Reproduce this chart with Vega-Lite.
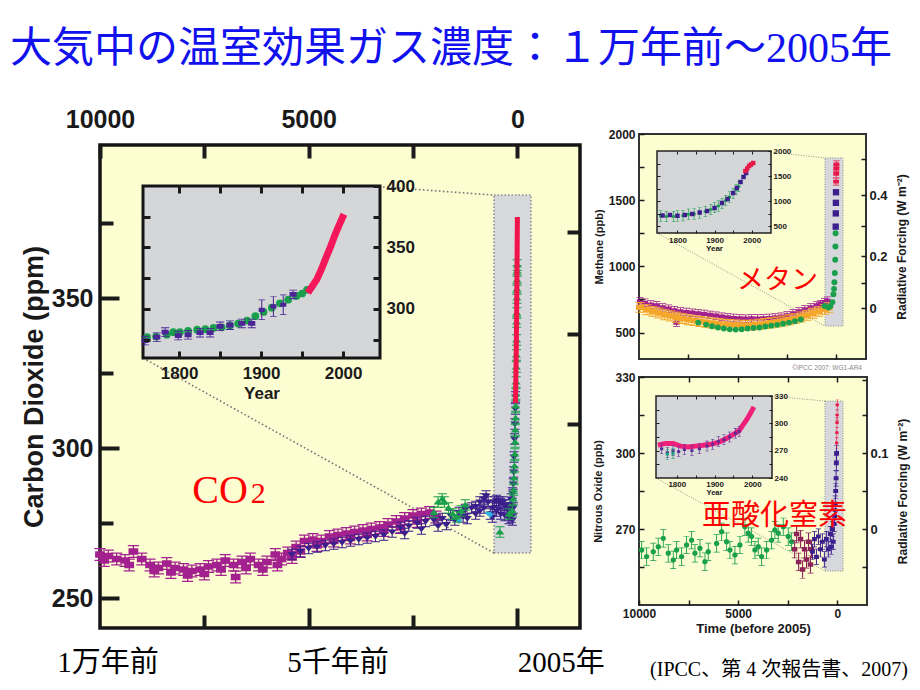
{
"$schema":"https://vega.github.io/schema/vega-lite/v6.json",
"width":920,"height":690,"autosize":{"type":"none"},"padding":0,"background":"#ffffff",
"title":{"text":"大気中の温室効果ガス濃度：１万年前～2005年","anchor":"start","frame":"group","orient":"top","offset":-104,"dx":10,"baseline":"alphabetic","font":"Liberation Serif, Noto Sans CJK JP","fontSize":42,"fontWeight":"normal","color":"#1111ee"},
"config":{"view":{"stroke":null},"axis":{"domain":false,"grid":false,"zindex":1,"labelFlush":false,"labelOverlap":false,"labelFont":"Liberation Sans","titleFont":"Liberation Sans","labelFontWeight":"bold","titleFontWeight":"bold","labelColor":"#1a1a1a","titleColor":"#1a1a1a","tickColor":"#1a1a1a","minExtent":0,"maxExtent":400}},
"datasets":{
"co2_mag":[{"bp":10000,"c":264.5},{"bp":9800,"c":264},{"bp":9600,"c":263},{"bp":9400,"c":262.5},{"bp":9200,"c":265.5},{"bp":9000,"c":263},{"bp":8800,"c":261},{"bp":8600,"c":260},{"bp":8400,"c":261.5},{"bp":8200,"c":260},{"bp":8000,"c":259.5},{"bp":7800,"c":259},{"bp":7600,"c":259.5},{"bp":7400,"c":260.5},{"bp":7200,"c":261},{"bp":7000,"c":262.5},{"bp":6800,"c":261},{"bp":6750,"c":257},{"bp":6600,"c":262},{"bp":6400,"c":263},{"bp":6200,"c":261},{"bp":6000,"c":262},{"bp":5800,"c":264.5},{"bp":5750,"c":261},{"bp":5500,"c":265},{"bp":5300,"c":267},{"bp":5100,"c":269},{"bp":4900,"c":269.5},{"bp":4700,"c":269},{"bp":4500,"c":270.5},{"bp":4300,"c":271},{"bp":4100,"c":271.5},{"bp":3900,"c":272},{"bp":3700,"c":272.5},{"bp":3500,"c":273},{"bp":3300,"c":273.5},{"bp":3100,"c":274.5},{"bp":2900,"c":275.5},{"bp":2700,"c":276.5},{"bp":2500,"c":277.5},{"bp":2300,"c":278},{"bp":2100,"c":278.5},{"bp":1950,"c":277},{"bp":9900,"c":262.5},{"bp":9300,"c":261},{"bp":8700,"c":259},{"bp":8300,"c":258.5},{"bp":7900,"c":257.5},{"bp":7500,"c":258},{"bp":7100,"c":259.5},{"bp":6500,"c":260},{"bp":6100,"c":259.5},{"bp":5650,"c":263},{"bp":5400,"c":263.5},{"bp":5200,"c":265.5},{"bp":4800,"c":267.5},{"bp":4400,"c":269},{"bp":4000,"c":270},{"bp":3600,"c":271},{"bp":3200,"c":272.5},{"bp":2800,"c":273.5},{"bp":2400,"c":275.5}],
"co2_ind":[{"bp":5400,"c":264.5},{"bp":5200,"c":265.5},{"bp":5000,"c":266.5},{"bp":4800,"c":267},{"bp":4600,"c":267.5},{"bp":4400,"c":268},{"bp":4200,"c":268.5},{"bp":4000,"c":269},{"bp":3800,"c":269.5},{"bp":3600,"c":270},{"bp":3400,"c":270.5},{"bp":3200,"c":271},{"bp":3000,"c":272},{"bp":2800,"c":273.5},{"bp":2600,"c":274},{"bp":2400,"c":275},{"bp":2200,"c":275.5},{"bp":2000,"c":276},{"bp":1800,"c":276.5},{"bp":1600,"c":277.5},{"bp":1400,"c":278.5},{"bp":1250,"c":279.5},{"bp":1100,"c":280},{"bp":1000,"c":280.5},{"bp":900,"c":282},{"bp":800,"c":283},{"bp":750,"c":284},{"bp":700,"c":282},{"bp":650,"c":278},{"bp":600,"c":280},{"bp":550,"c":282},{"bp":500,"c":282.5},{"bp":450,"c":282},{"bp":400,"c":281.5},{"bp":350,"c":282},{"bp":300,"c":281},{"bp":250,"c":280},{"bp":200,"c":279},{"bp":170,"c":281},{"bp":150,"c":283},{"bp":120,"c":285},{"bp":100,"c":288},{"bp":90,"c":292},{"bp":80,"c":297},{"bp":70,"c":303},{"bp":60,"c":308},{"bp":50,"c":313},{"bp":45,"c":317},{"bp":2700,"c":271.5},{"bp":2300,"c":273},{"bp":1900,"c":274},{"bp":1700,"c":274.5},{"bp":1500,"c":276},{"bp":1300,"c":277},{"bp":1200,"c":276.5},{"bp":1000,"c":278},{"bp":900,"c":279},{"bp":800,"c":280},{"bp":600,"c":277},{"bp":500,"c":279},{"bp":400,"c":278},{"bp":300,"c":277.5},{"bp":200,"c":276.5},{"bp":150,"c":277},{"bp":120,"c":276},{"bp":100,"c":280}],
"co2_grn":[{"bp":2000,"c":278.5},{"bp":1900,"c":282},{"bp":1800,"c":283},{"bp":1750,"c":282},{"bp":1650,"c":280},{"bp":1550,"c":278},{"bp":1450,"c":277},{"bp":1350,"c":279},{"bp":1250,"c":281},{"bp":420,"c":272},{"bp":200,"c":278},{"bp":120,"c":279},{"bp":100,"c":283},{"bp":90,"c":286},{"bp":80,"c":290},{"bp":70,"c":294},{"bp":60,"c":298},{"bp":55,"c":302},{"bp":50,"c":306},{"bp":45,"c":310},{"bp":40,"c":314},{"bp":35,"c":318},{"bp":30,"c":322},{"bp":25,"c":327},{"bp":22,"c":331},{"bp":20,"c":336},{"bp":18,"c":342},{"bp":15,"c":345},{"bp":12,"c":350},{"bp":10,"c":353},{"bp":8,"c":356},{"bp":5,"c":359},{"bp":3,"c":361}],
"co2_cyan":[{"bp":1400,"c":275.5},{"bp":700,"c":278},{"bp":650,"c":277.5}],
"co2_red":[{"bp":47,"c":315},{"bp":35,"c":325},{"bp":25,"c":335},{"bp":15,"c":350},{"bp":5,"c":368},{"bp":0,"c":377}],
"co2i_grn":[{"yr":1761,"c":277},{"yr":1772,"c":277.5},{"yr":1785,"c":279},{"yr":1793,"c":281},{"yr":1801,"c":281},{"yr":1811,"c":282},{"yr":1822,"c":283},{"yr":1832,"c":283.5},{"yr":1842,"c":284.5},{"yr":1852,"c":285},{"yr":1862,"c":286.5},{"yr":1872,"c":288},{"yr":1883,"c":290.5},{"yr":1893,"c":294},{"yr":1903,"c":297.5},{"yr":1913,"c":301},{"yr":1923,"c":304.5},{"yr":1933,"c":307.5},{"yr":1943,"c":310.5},{"yr":1950,"c":312.5},{"yr":1956,"c":315.5}],
"co2i_ind":[{"yr":1758.5,"c":274.2},{"yr":1772.8,"c":276.9},{"yr":1783,"c":281.1},{"yr":1799,"c":278.3},{"yr":1811,"c":278.9},{"yr":1825.6,"c":280.6},{"yr":1837.8,"c":280.6},{"yr":1850,"c":285.8},{"yr":1862,"c":286.7},{"yr":1876.5,"c":288.1},{"yr":1888.6,"c":288.1},{"yr":1939,"c":311.7}],
"co2i_big":[{"yr":1900.8,"c":299.2},{"yr":1915,"c":302},{"yr":1927,"c":303.3}],
"co2i_red":[{"yr":1957,"c":313},{"yr":1962,"c":318},{"yr":1968,"c":324},{"yr":1974,"c":333},{"yr":1980,"c":343},{"yr":1985,"c":351},{"yr":1990,"c":360},{"yr":1995,"c":368},{"yr":2001,"c":377}],
"ch4_mag":[{"bp":9950,"c":735},{"bp":9700,"c":725},{"bp":9400,"c":712},{"bp":9100,"c":705},{"bp":8800,"c":690},{"bp":8500,"c":680},{"bp":8200,"c":668},{"bp":8100,"c":575},{"bp":7900,"c":660},{"bp":7600,"c":655},{"bp":7300,"c":650},{"bp":7000,"c":645},{"bp":6700,"c":640},{"bp":6400,"c":633},{"bp":6100,"c":628},{"bp":5800,"c":620},{"bp":5500,"c":615},{"bp":5200,"c":610},{"bp":4900,"c":607},{"bp":4600,"c":605},{"bp":4300,"c":607},{"bp":4000,"c":606},{"bp":3700,"c":607},{"bp":3400,"c":610},{"bp":3100,"c":615},{"bp":2800,"c":620},{"bp":2500,"c":630},{"bp":2200,"c":645},{"bp":1900,"c":660},{"bp":1600,"c":675},{"bp":1300,"c":690},{"bp":1000,"c":705},{"bp":800,"c":715},{"bp":600,"c":730},{"bp":450,"c":740}],
"ch4_org":[{"bp":9950,"c":690},{"bp":9600,"c":672},{"bp":9300,"c":660},{"bp":9000,"c":648},{"bp":8700,"c":635},{"bp":8400,"c":625},{"bp":8100,"c":615},{"bp":7800,"c":605},{"bp":7500,"c":597},{"bp":7200,"c":590},{"bp":6900,"c":583},{"bp":6600,"c":577},{"bp":6300,"c":572},{"bp":6000,"c":567},{"bp":5700,"c":563},{"bp":5400,"c":560},{"bp":5100,"c":558},{"bp":4800,"c":556},{"bp":4500,"c":556},{"bp":4200,"c":558},{"bp":3900,"c":562},{"bp":3600,"c":568},{"bp":3300,"c":574},{"bp":3000,"c":580},{"bp":2700,"c":587},{"bp":2400,"c":596},{"bp":2100,"c":605},{"bp":1800,"c":617},{"bp":1500,"c":630},{"bp":1200,"c":645},{"bp":900,"c":660},{"bp":600,"c":675},{"bp":400,"c":688}],
"ch4_grn":[{"bp":7000,"c":575},{"bp":6600,"c":560},{"bp":6300,"c":548},{"bp":6000,"c":538},{"bp":5700,"c":530},{"bp":5400,"c":524},{"bp":5100,"c":522},{"bp":4800,"c":525},{"bp":4500,"c":530},{"bp":4200,"c":534},{"bp":3900,"c":538},{"bp":3600,"c":545},{"bp":3300,"c":552},{"bp":3000,"c":558},{"bp":2700,"c":566},{"bp":2400,"c":575},{"bp":2100,"c":585},{"bp":1800,"c":598},{"bp":600,"c":700},{"bp":400,"c":690},{"bp":300,"c":700},{"bp":200,"c":730},{"bp":150,"c":790},{"bp":120,"c":830},{"bp":100,"c":880},{"bp":80,"c":950},{"bp":60,"c":1050},{"bp":50,"c":1150},{"bp":40,"c":1250}],
"ch4_ind":[{"bp":35,"c":1300},{"bp":30,"c":1400},{"bp":25,"c":1480},{"bp":20,"c":1560}],
"ch4_red":[{"bp":15,"c":1640},{"bp":10,"c":1700},{"bp":5,"c":1740},{"bp":0,"c":1770}],
"ch4i_grn":[{"yr":1755,"c":700},{"yr":1770,"c":690},{"yr":1790,"c":690},{"yr":1800,"c":700},{"yr":1815,"c":705},{"yr":1830,"c":735},{"yr":1845,"c":740},{"yr":1860,"c":760},{"yr":1875,"c":790},{"yr":1890,"c":830},{"yr":1900,"c":870},{"yr":1910,"c":900},{"yr":1920,"c":950},{"yr":1930,"c":1010},{"yr":1940,"c":1080},{"yr":1950,"c":1150},{"yr":1958,"c":1230},{"yr":1965,"c":1290}],
"ch4i_ind":[{"yr":1760,"c":710},{"yr":1780,"c":720},{"yr":1800,"c":705},{"yr":1820,"c":720},{"yr":1840,"c":740},{"yr":1860,"c":770},{"yr":1880,"c":800},{"yr":1900,"c":860},{"yr":1920,"c":960},{"yr":1935,"c":1040},{"yr":1950,"c":1160},{"yr":1960,"c":1260},{"yr":1970,"c":1380},{"yr":1978,"c":1480},{"yr":1985,"c":1560}],
"ch4i_red":[{"yr":1983,"c":1600},{"yr":1988,"c":1650},{"yr":1993,"c":1700},{"yr":1998,"c":1730},{"yr":2004,"c":1760}],
"n2o_grn":[{"bp":9868,"c":261.7},{"bp":9616,"c":259.1},{"bp":9280,"c":261},{"bp":9027,"c":263},{"bp":8775,"c":266.3},{"bp":8523,"c":260.4},{"bp":8271,"c":257.8},{"bp":8103,"c":261.7},{"bp":7851,"c":259.1},{"bp":7599,"c":263.7},{"bp":7346,"c":265.6},{"bp":7178,"c":260.4},{"bp":6926,"c":262.4},{"bp":6674,"c":257.1},{"bp":6506,"c":261},{"bp":6086,"c":264.3},{"bp":5834,"c":268.9},{"bp":5581,"c":265},{"bp":5413,"c":261.7},{"bp":5161,"c":259.7},{"bp":4909,"c":263.7},{"bp":4657,"c":270.9},{"bp":4489,"c":268.3},{"bp":4321,"c":267},{"bp":4152,"c":261.7},{"bp":3984,"c":263},{"bp":3816,"c":259.1},{"bp":3564,"c":261.7},{"bp":3312,"c":265.6},{"bp":3144,"c":269.6},{"bp":2976,"c":268.3},{"bp":2724,"c":270.9},{"bp":2471,"c":267},{"bp":2303,"c":265}],
"n2o_mar":[{"bp":2150,"c":262},{"bp":2050,"c":268},{"bp":1950,"c":257},{"bp":1850,"c":266},{"bp":1750,"c":254},{"bp":1650,"c":262},{"bp":1550,"c":258},{"bp":1450,"c":265},{"bp":1350,"c":256},{"bp":1300,"c":262}],
"n2o_ind":[{"bp":1250,"c":261},{"bp":1150,"c":266},{"bp":1050,"c":259},{"bp":950,"c":267},{"bp":850,"c":262},{"bp":750,"c":265},{"bp":650,"c":258},{"bp":550,"c":266},{"bp":450,"c":262},{"bp":350,"c":268},{"bp":300,"c":263},{"bp":250,"c":270},{"bp":200,"c":265},{"bp":160,"c":272},{"bp":130,"c":275},{"bp":100,"c":280},{"bp":80,"c":285},{"bp":60,"c":290},{"bp":45,"c":296},{"bp":35,"c":300}],
"n2o_red":[{"bp":28,"c":304},{"bp":20,"c":308},{"bp":12,"c":312},{"bp":6,"c":315},{"bp":0,"c":319}],
"n2oi_pink":[{"yr":1750,"c":276},{"yr":1770,"c":278},{"yr":1790,"c":278},{"yr":1810,"c":275},{"yr":1830,"c":274},{"yr":1850,"c":275},{"yr":1870,"c":276},{"yr":1890,"c":277},{"yr":1910,"c":279},{"yr":1930,"c":283},{"yr":1950,"c":288},{"yr":1965,"c":292},{"yr":1975,"c":298},{"yr":1985,"c":304},{"yr":1995,"c":311},{"yr":2004,"c":318}],
"n2oi_ind":[{"yr":1760,"c":272},{"yr":1775,"c":268},{"yr":1790,"c":270},{"yr":1805,"c":269},{"yr":1820,"c":271},{"yr":1840,"c":270},{"yr":1860,"c":272},{"yr":1880,"c":275},{"yr":1895,"c":277},{"yr":1910,"c":280},{"yr":1925,"c":282},{"yr":1940,"c":285},{"yr":1955,"c":289},{"yr":1965,"c":291}],
"n2oi_grn":[{"yr":1775,"c":266},{"yr":1790,"c":267}]
},
"layer":[
{"data":{"values":[{}]},"mark":{"type":"rect","fill":"#fdfdd2","stroke":"#151515","strokeWidth":3.5},
 "encoding":{
  "x":{"datum":10000,"type":"quantitative","scale":{"domain":[10000,-1500],"range":[100,580],"nice":false,"zero":false},"axis":{"orient":"bottom","offset":-62,"values":[7500,5000,2500,0],"labels":false,"tickSize":{"condition":{"test":"datum.value % 5000 == 0","value":-20},"value":-13},"tickWidth":4,"zindex":2,"title":null}},
  "x2":{"datum":-1500},
  "y":{"datum":240,"type":"quantitative","scale":{"domain":[240,401],"range":[628,145],"nice":false,"zero":false},"axis":{"orient":"left","offset":-100,"values":[250,275,300,325,350,375],"format":"d","labelExpr":"datum.value % 50 == 0 ? datum.label : ''","tickSize":{"condition":{"test":"datum.value % 50 == 0","value":-19},"value":-13},"tickWidth":4,"zindex":2,"labelFontSize":25,"labelPadding":26,"title":"Carbon Dioxide (ppm)","titleFontSize":27,"titlePadding":3}},
  "y2":{"datum":401}}},
{"data":{"values":[{}]},"mark":{"type":"rect","fill":"#d7d8db","stroke":"#8a8a8a","strokeWidth":1.5,"strokeDash":[1.5,2]},
 "encoding":{
  "x":{"datum":561,"type":"quantitative","scale":{"domain":[10000,-1500],"range":[100,580],"nice":false,"zero":false},"axis":{"orient":"top","offset":-145,"values":[10000,7500,5000,2500,0],"format":"d","labelExpr":"datum.value % 5000 == 0 ? datum.label : ''","tickSize":-13,"tickWidth":4,"zindex":2,"labelFontSize":25,"labelPadding":26,"title":null}},
  "x2":{"datum":-326},
  "y":{"datum":265,"type":"quantitative","scale":{"domain":[240,401],"range":[628,145],"nice":false,"zero":false},"axis":{"orient":"right","offset":-340,"values":[280,308,338,372],"labels":false,"tickSize":-13,"tickWidth":4,"zindex":2,"title":null}},
  "y2":{"datum":384.3}}},
{"data":{"values":[{"x":8970,"y":330,"x2":561,"y2":265},{"x":3220,"y":387,"x2":561,"y2":384.3}]},"mark":{"type":"rule","stroke":"#777777","strokeWidth":1.6,"strokeDash":[1.6,2.4]},
 "encoding":{
  "x":{"field":"x","type":"quantitative","scale":{"domain":[10000,-1500],"range":[100,580],"nice":false,"zero":false},"axis":null},
  "y":{"field":"y","type":"quantitative","scale":{"domain":[240,401],"range":[628,145],"nice":false,"zero":false},"axis":null},
  "x2":{"field":"x2"},"y2":{"field":"y2"}}},
{"layer":[
 {"data":{"name":"co2_mag"},"mark":{"type":"point","shape":"M-0.75,-0.5H0.75V0.5H-0.75Z M-0.85,-1H0.85V-0.82H-0.85Z M-0.85,0.82H0.85V1H-0.85Z M-0.1,-1H0.1V1H-0.1Z","filled":true,"size":170,"color":"#a3208f","opacity":1,"strokeWidth":0},
  "encoding":{"x":{"field":"bp","type":"quantitative","scale":{"domain":[10000,-1500],"range":[100,580],"nice":false,"zero":false},"axis":null},"y":{"field":"c","type":"quantitative","scale":{"domain":[240,401],"range":[628,145],"nice":false,"zero":false},"axis":null}}},
 {"data":{"name":"co2_ind"},"mark":{"type":"point","shape":"M-0.8,-0.45H0.8L0,0.55Z M-0.8,-1H0.8V-0.84H-0.8Z M-0.8,0.84H0.8V1H-0.8Z M-0.1,-1H0.1V1H-0.1Z","filled":true,"size":130,"color":"#3b1f8c","opacity":1,"strokeWidth":0},
  "encoding":{"x":{"field":"bp","type":"quantitative","scale":{"domain":[10000,-1500],"range":[100,580],"nice":false,"zero":false},"axis":null},"y":{"field":"c","type":"quantitative","scale":{"domain":[240,401],"range":[628,145],"nice":false,"zero":false},"axis":null}}},
 {"data":{"name":"co2_cyan"},"mark":{"type":"point","shape":"M-0.8,-0.45H0.8L0,0.55Z","filled":true,"size":90,"color":"#2fb2e6","opacity":1,"strokeWidth":0},
  "encoding":{"x":{"field":"bp","type":"quantitative","scale":{"domain":[10000,-1500],"range":[100,580],"nice":false,"zero":false},"axis":null},"y":{"field":"c","type":"quantitative","scale":{"domain":[240,401],"range":[628,145],"nice":false,"zero":false},"axis":null}}},
 {"data":{"name":"co2_grn"},"mark":{"type":"point","shape":"M0,-0.55L0.8,0.45H-0.8Z M-0.8,-1H0.8V-0.84H-0.8Z M-0.8,0.84H0.8V1H-0.8Z M-0.1,-1H0.1V1H-0.1Z","filled":true,"size":130,"color":"#1aa04c","opacity":1,"strokeWidth":0},
  "encoding":{"x":{"field":"bp","type":"quantitative","scale":{"domain":[10000,-1500],"range":[100,580],"nice":false,"zero":false},"axis":null},"y":{"field":"c","type":"quantitative","scale":{"domain":[240,401],"range":[628,145],"nice":false,"zero":false},"axis":null}}},
 {"data":{"name":"co2_red"},"mark":{"type":"line","color":"#f0144a","strokeWidth":5},
  "encoding":{"x":{"field":"bp","type":"quantitative","scale":{"domain":[10000,-1500],"range":[100,580],"nice":false,"zero":false},"axis":null},"y":{"field":"c","type":"quantitative","scale":{"domain":[240,401],"range":[628,145],"nice":false,"zero":false},"axis":null}}}
]},
{"layer":[
 {"data":{"values":[{"t":"CO","bp":7790,"c":281.7}]},"mark":{"type":"text","align":"left","baseline":"alphabetic","font":"Liberation Serif","fontSize":40,"color":"#ff0000"},
  "encoding":{"x":{"field":"bp","type":"quantitative","scale":{"domain":[10000,-1500],"range":[100,580],"nice":false,"zero":false},"axis":null},"y":{"field":"c","type":"quantitative","scale":{"domain":[240,401],"range":[628,145],"nice":false,"zero":false},"axis":null},"text":{"field":"t"}}},
 {"data":{"values":[{"t":"2","bp":6390,"c":281.7}]},"mark":{"type":"text","align":"left","baseline":"alphabetic","font":"Liberation Serif","fontSize":30,"color":"#ff0000"},
  "encoding":{"x":{"field":"bp","type":"quantitative","scale":{"domain":[10000,-1500],"range":[100,580],"nice":false,"zero":false},"axis":null},"y":{"field":"c","type":"quantitative","scale":{"domain":[240,401],"range":[628,145],"nice":false,"zero":false},"axis":null},"text":{"field":"t"}}},
 {"data":{"values":[{"t":"1万年前","bp":9809},{"t":"5千年前","bp":4298},{"t":"2005年","bp":-1050}]},"mark":{"type":"text","align":"center","baseline":"middle","font":"Liberation Serif, Noto Sans CJK JP","fontSize":29,"color":"#000000"},
  "encoding":{"x":{"field":"bp","type":"quantitative","scale":{"domain":[10000,-1500],"range":[100,580],"nice":false,"zero":false},"axis":null},"y":{"datum":228.3,"type":"quantitative","scale":{"domain":[240,401],"range":[628,145],"nice":false,"zero":false},"axis":null},"text":{"field":"t"}}}
]},
{"data":{"values":[{}]},"mark":{"type":"rect","fill":"#d5d6d8","stroke":"#151515","strokeWidth":3},
 "encoding":{
  "x":{"datum":1756,"type":"quantitative","scale":{"domain":[1756,2045],"range":[143,380],"nice":false,"zero":false},"axis":{"orient":"top","offset":-186,"values":[1800,1850,1900,1950,2000],"labels":false,"tickSize":-7,"tickWidth":3,"zindex":2,"title":null}},
  "x2":{"datum":2045},
  "y":{"datum":260,"type":"quantitative","scale":{"domain":[260,400],"range":[358,186],"nice":false,"zero":false},"axis":{"orient":"left","offset":-143,"values":[275,300,325,350,375],"labels":false,"tickSize":-7,"tickWidth":3,"zindex":2,"title":null}},
  "y2":{"datum":400}}},
{"layer":[
 {"data":{"name":"co2i_grn"},"mark":{"type":"point","shape":"circle","filled":true,"size":60,"color":"#1aa04c","opacity":1,"strokeWidth":0},
  "encoding":{"x":{"field":"yr","type":"quantitative","scale":{"domain":[1756,2045],"range":[143,380],"nice":false,"zero":false},"axis":null},"y":{"field":"c","type":"quantitative","scale":{"domain":[260,400],"range":[358,186],"nice":false,"zero":false},"axis":null}}},
 {"data":{"name":"co2i_ind"},"mark":{"type":"point","shape":"M-0.75,-0.5H0.75V0.5H-0.75Z M-0.85,-1H0.85V-0.82H-0.85Z M-0.85,0.82H0.85V1H-0.85Z M-0.1,-1H0.1V1H-0.1Z","filled":true,"size":90,"color":"#4b2596","opacity":1,"strokeWidth":0},
  "encoding":{"x":{"field":"yr","type":"quantitative","scale":{"domain":[1756,2045],"range":[143,380],"nice":false,"zero":false},"axis":null},"y":{"field":"c","type":"quantitative","scale":{"domain":[260,400],"range":[358,186],"nice":false,"zero":false},"axis":null}}},
 {"data":{"name":"co2i_big"},"mark":{"type":"point","shape":"M-0.3,-0.2H0.3V0.2H-0.3Z M-0.32,-1H0.32V-0.93H-0.32Z M-0.32,0.93H0.32V1H-0.32Z M-0.05,-1H0.05V1H-0.05Z","filled":true,"size":420,"color":"#4b2596","opacity":1,"strokeWidth":0},
  "encoding":{"x":{"field":"yr","type":"quantitative","scale":{"domain":[1756,2045],"range":[143,380],"nice":false,"zero":false},"axis":null},"y":{"field":"c","type":"quantitative","scale":{"domain":[260,400],"range":[358,186],"nice":false,"zero":false},"axis":null}}}
]},
{"data":{"name":"co2i_red"},"mark":{"type":"line","color":"#f5175a","strokeWidth":7},
 "encoding":{"x":{"field":"yr","type":"quantitative","scale":{"domain":[1756,2045],"range":[143,380],"nice":false,"zero":false},"axis":{"orient":"bottom","offset":-332,"values":[1800,1850,1900,1950,2000],"format":"d","labelExpr":"datum.value % 100 == 0 ? datum.label : ''","tickSize":-7,"tickWidth":3,"zindex":2,"labelFontSize":17,"labelPadding":14,"title":"Year","titleFontSize":17,"titlePadding":4}},
  "y":{"field":"c","type":"quantitative","scale":{"domain":[260,400],"range":[358,186],"nice":false,"zero":false},"axis":{"orient":"right","offset":-540,"values":[275,300,325,350,375,400],"format":"d","labelExpr":"datum.value % 50 == 0 ? datum.label : ''","tickSize":-7,"tickWidth":3,"zindex":2,"labelFontSize":17,"labelPadding":13,"title":null}}}},
{"data":{"values":[{}]},"mark":{"type":"rect","fill":"#fdfdd2","stroke":"#333333","strokeWidth":2},
 "encoding":{
  "x":{"datum":10000,"type":"quantitative","scale":{"domain":[10000,-1500],"range":[639,866],"nice":false,"zero":false},"axis":{"orient":"bottom","offset":-331,"values":[7500,5000,2500,0],"labels":false,"tickSize":-5,"tickWidth":1.5,"zindex":2,"title":null}},
  "x2":{"datum":-1500},
  "y":{"datum":300,"type":"quantitative","scale":{"domain":[300,2000],"range":[359,134],"nice":false,"zero":false},"axis":{"orient":"left","offset":-639,"values":[500,750,1000,1250,1500,1750,2000],"format":"d","labelExpr":"datum.value % 500 == 0 ? datum.label : ''","tickSize":-5,"tickWidth":1.5,"zindex":2,"labelFontSize":12,"labelPadding":9,"title":"Methane (ppb)","titleFontSize":11,"titlePadding":4}},
  "y2":{"datum":2000}}},
{"data":{"values":[{}]},"mark":{"type":"rect","fill":"#d7d8db","stroke":"#8a8a8a","strokeWidth":1,"strokeDash":[1,1.5]},
 "encoding":{
  "x":{"datum":578,"type":"quantitative","scale":{"domain":[10000,-1500],"range":[639,866],"nice":false,"zero":false},"axis":null},
  "x2":{"datum":-334},
  "y":{"datum":549,"type":"quantitative","scale":{"domain":[300,2000],"range":[359,134],"nice":false,"zero":false},"axis":{"orient":"right","offset":-54,"values":[682,871,1076,1303,1538,1811],"labelExpr":"datum.value == 682 ? '0' : datum.value == 1076 ? '0.2' : datum.value == 1538 ? '0.4' : ''","tickSize":-5,"tickWidth":1.5,"zindex":2,"labelFontSize":13,"labelPadding":8,"title":"Radiative Forcing (W m⁻²)","titleFontSize":12,"titleAngle":270,"titleBaseline":"top","titlePadding":9}},
  "y2":{"datum":1819}}},
{"data":{"values":[{"x":9089,"y":1252,"x2":578,"y2":549},{"x":3313,"y":1864,"x2":578,"y2":1819}]},"mark":{"type":"rule","stroke":"#777777","strokeWidth":0.8,"strokeDash":[1,1.5]},
 "encoding":{
  "x":{"field":"x","type":"quantitative","scale":{"domain":[10000,-1500],"range":[639,866],"nice":false,"zero":false},"axis":null},
  "y":{"field":"y","type":"quantitative","scale":{"domain":[300,2000],"range":[359,134],"nice":false,"zero":false},"axis":null},
  "x2":{"field":"x2"},"y2":{"field":"y2"}}},
{"layer":[
 {"data":{"name":"ch4_mag"},"mark":{"type":"point","shape":"M-0.75,-0.5H0.75V0.5H-0.75Z M-0.85,-1H0.85V-0.82H-0.85Z M-0.85,0.82H0.85V1H-0.85Z M-0.1,-1H0.1V1H-0.1Z","filled":true,"size":70,"color":"#a3208f","opacity":1,"strokeWidth":0},
  "encoding":{"x":{"field":"bp","type":"quantitative","scale":{"domain":[10000,-1500],"range":[639,866],"nice":false,"zero":false},"axis":null},"y":{"field":"c","type":"quantitative","scale":{"domain":[300,2000],"range":[359,134],"nice":false,"zero":false},"axis":null}}},
 {"data":{"name":"ch4_org"},"mark":{"type":"point","shape":"M-0.75,-0.5H0.75V0.5H-0.75Z M-0.85,-1H0.85V-0.82H-0.85Z M-0.85,0.82H0.85V1H-0.85Z M-0.1,-1H0.1V1H-0.1Z","filled":true,"size":120,"color":"#f4a62a","opacity":1,"strokeWidth":0},
  "encoding":{"x":{"field":"bp","type":"quantitative","scale":{"domain":[10000,-1500],"range":[639,866],"nice":false,"zero":false},"axis":null},"y":{"field":"c","type":"quantitative","scale":{"domain":[300,2000],"range":[359,134],"nice":false,"zero":false},"axis":null}}},
 {"data":{"name":"ch4_grn"},"mark":{"type":"point","shape":"circle","filled":true,"size":35,"color":"#1aa04c","opacity":1,"strokeWidth":0},
  "encoding":{"x":{"field":"bp","type":"quantitative","scale":{"domain":[10000,-1500],"range":[639,866],"nice":false,"zero":false},"axis":null},"y":{"field":"c","type":"quantitative","scale":{"domain":[300,2000],"range":[359,134],"nice":false,"zero":false},"axis":null}}},
 {"data":{"name":"ch4_ind"},"mark":{"type":"point","shape":"square","filled":true,"size":40,"color":"#3b1f8c","opacity":1,"strokeWidth":0},
  "encoding":{"x":{"field":"bp","type":"quantitative","scale":{"domain":[10000,-1500],"range":[639,866],"nice":false,"zero":false},"axis":null},"y":{"field":"c","type":"quantitative","scale":{"domain":[300,2000],"range":[359,134],"nice":false,"zero":false},"axis":null}}},
 {"data":{"name":"ch4_red"},"mark":{"type":"point","shape":"M-0.75,-0.5H0.75V0.5H-0.75Z M-0.85,-1H0.85V-0.82H-0.85Z M-0.85,0.82H0.85V1H-0.85Z M-0.1,-1H0.1V1H-0.1Z","filled":true,"size":60,"color":"#e8174a","opacity":1,"strokeWidth":0},
  "encoding":{"x":{"field":"bp","type":"quantitative","scale":{"domain":[10000,-1500],"range":[639,866],"nice":false,"zero":false},"axis":null},"y":{"field":"c","type":"quantitative","scale":{"domain":[300,2000],"range":[359,134],"nice":false,"zero":false},"axis":null}}},
 {"data":{"values":[{"t":"メタン","bp":5036,"c":889}]},"mark":{"type":"text","align":"left","baseline":"middle","font":"Noto Sans CJK JP","fontSize":27,"color":"#ff0000"},
  "encoding":{"x":{"field":"bp","type":"quantitative","scale":{"domain":[10000,-1500],"range":[639,866],"nice":false,"zero":false},"axis":null},"y":{"field":"c","type":"quantitative","scale":{"domain":[300,2000],"range":[359,134],"nice":false,"zero":false},"axis":null},"text":{"field":"t"}}}
]},
{"data":{"values":[{}]},"mark":{"type":"rect","fill":"#d5d6d8","stroke":"#222222","strokeWidth":1.5},
 "encoding":{
  "x":{"datum":1745,"type":"quantitative","scale":{"domain":[1745,2052],"range":[657,771],"nice":false,"zero":false},"axis":{"orient":"top","offset":-151,"values":[1800,1850,1900,1950,2000],"labels":false,"tickSize":-3,"tickWidth":1,"zindex":2,"title":null}},
  "x2":{"datum":2052},
  "y":{"datum":360,"type":"quantitative","scale":{"domain":[360,2000],"range":[233,151],"nice":false,"zero":false},"axis":{"orient":"left","offset":-657,"values":[500,750,1000,1250,1500,1750],"labels":false,"tickSize":-3,"tickWidth":1,"zindex":2,"title":null}},
  "y2":{"datum":2000}}},
{"layer":[
 {"data":{"name":"ch4i_grn"},"mark":{"type":"point","shape":"M-0.3,-0.25H0.3V0.25H-0.3Z M-0.32,-1H0.32V-0.9H-0.32Z M-0.32,0.9H0.32V1H-0.32Z M-0.06,-1H0.06V1H-0.06Z","filled":true,"size":120,"color":"#1aa04c","opacity":1,"strokeWidth":0},
  "encoding":{"x":{"field":"yr","type":"quantitative","scale":{"domain":[1745,2052],"range":[657,771],"nice":false,"zero":false},"axis":null},"y":{"field":"c","type":"quantitative","scale":{"domain":[360,2000],"range":[233,151],"nice":false,"zero":false},"axis":null}}},
 {"data":{"name":"ch4i_ind"},"mark":{"type":"point","shape":"square","filled":true,"size":20,"color":"#3b1f8c","opacity":1,"strokeWidth":0},
  "encoding":{"x":{"field":"yr","type":"quantitative","scale":{"domain":[1745,2052],"range":[657,771],"nice":false,"zero":false},"axis":null},"y":{"field":"c","type":"quantitative","scale":{"domain":[360,2000],"range":[233,151],"nice":false,"zero":false},"axis":null}}}
]},
{"data":{"name":"ch4i_red"},"mark":{"type":"point","shape":"square","filled":true,"size":20,"color":"#e8174a","opacity":1,"strokeWidth":0},
 "encoding":{"x":{"field":"yr","type":"quantitative","scale":{"domain":[1745,2052],"range":[657,771],"nice":false,"zero":false},"axis":{"orient":"bottom","offset":-457,"values":[1800,1850,1900,1950,2000],"format":"d","labelExpr":"datum.value % 100 == 0 ? datum.label : ''","tickSize":-3,"tickWidth":1,"zindex":2,"labelFontSize":8,"labelPadding":6,"title":"Year","titleFontSize":8,"titlePadding":0}},
  "y":{"field":"c","type":"quantitative","scale":{"domain":[360,2000],"range":[233,151],"nice":false,"zero":false},"axis":{"orient":"right","offset":-149,"values":[500,750,1000,1250,1500,1750,2000],"format":"d","labelExpr":"datum.value % 500 == 0 ? datum.label : ''","tickSize":-3,"tickWidth":1,"zindex":2,"labelFontSize":8,"labelPadding":5,"title":null}}}},
{"data":{"values":[{}]},"mark":{"type":"rect","fill":"#fdfdd2","stroke":"#333333","strokeWidth":2},
 "encoding":{
  "x":{"datum":10000,"type":"quantitative","scale":{"domain":[10000,-1500],"range":[639,867],"nice":false,"zero":false},"axis":{"orient":"bottom","offset":-85,"values":[10000,7500,5000,2500,0],"format":"d","labelExpr":"datum.value % 5000 == 0 ? datum.label : ''","tickSize":-5,"tickWidth":1.5,"zindex":2,"labelFontSize":12,"labelPadding":8,"title":"Time (before 2005)","titleFontSize":13,"titlePadding":3}},
  "x2":{"datum":-1500},
  "y":{"datum":240,"type":"quantitative","scale":{"domain":[240,330],"range":[605,377],"nice":false,"zero":false},"axis":{"orient":"left","offset":-639,"values":[255,270,285,300,315,330],"format":"d","labelExpr":"(datum.value - 270) % 30 == 0 ? datum.label : ''","tickSize":-5,"tickWidth":1.5,"zindex":2,"labelFontSize":12,"labelPadding":9,"title":"Nitrous Oxide (ppb)","titleFontSize":11,"titlePadding":11}},
  "y2":{"datum":330}}},
{"data":{"values":[{}]},"mark":{"type":"rect","fill":"#d7d8db","stroke":"#8a8a8a","strokeWidth":1,"strokeDash":[1,1.5]},
 "encoding":{
  "x":{"datum":620,"type":"quantitative","scale":{"domain":[10000,-1500],"range":[639,867],"nice":false,"zero":false},"axis":{"orient":"top","offset":-377,"values":[7500,5000,2500,0],"labels":false,"tickSize":-5,"tickWidth":1.5,"zindex":2,"title":null}},
  "x2":{"datum":-288},
  "y":{"datum":253.4,"type":"quantitative","scale":{"domain":[240,330],"range":[605,377],"nice":false,"zero":false},"axis":{"orient":"right","offset":-53,"values":[255,270,285,300,315,329],"labelExpr":"datum.value == 270 ? '0' : datum.value == 300 ? '0.1' : ''","tickSize":-5,"tickWidth":1.5,"zindex":2,"labelFontSize":13,"labelPadding":8,"title":"Radiative Forcing (W m⁻²)","titleFontSize":12,"titleAngle":270,"titleBaseline":"top","titlePadding":9}},
  "y2":{"datum":320.5}}},
{"data":{"values":[{"x":9143,"y":290.1,"x2":620,"y2":253.4},{"x":3294,"y":322.5,"x2":620,"y2":320.5}]},"mark":{"type":"rule","stroke":"#777777","strokeWidth":0.8,"strokeDash":[1,1.5]},
 "encoding":{
  "x":{"field":"x","type":"quantitative","scale":{"domain":[10000,-1500],"range":[639,867],"nice":false,"zero":false},"axis":null},
  "y":{"field":"y","type":"quantitative","scale":{"domain":[240,330],"range":[605,377],"nice":false,"zero":false},"axis":null},
  "x2":{"field":"x2"},"y2":{"field":"y2"}}},
{"layer":[
 {"data":{"name":"n2o_grn"},"mark":{"type":"point","shape":"M-0.3,0A0.3,0.3 0 1,1 0.3,0A0.3,0.3 0 1,1 -0.3,0Z M-0.34,-1H0.34V-0.92H-0.34Z M-0.34,0.92H0.34V1H-0.34Z M-0.05,-1H0.05V1H-0.05Z","filled":true,"size":330,"color":"#1aa04c","opacity":1,"strokeWidth":0},
  "encoding":{"x":{"field":"bp","type":"quantitative","scale":{"domain":[10000,-1500],"range":[639,867],"nice":false,"zero":false},"axis":null},"y":{"field":"c","type":"quantitative","scale":{"domain":[240,330],"range":[605,377],"nice":false,"zero":false},"axis":null}}},
 {"data":{"name":"n2o_mar"},"mark":{"type":"point","shape":"M-0.3,-0.25H0.3V0.25H-0.3Z M-0.32,-1H0.32V-0.92H-0.32Z M-0.32,0.92H0.32V1H-0.32Z M-0.06,-1H0.06V1H-0.06Z","filled":true,"size":330,"color":"#8c2458","opacity":1,"strokeWidth":0},
  "encoding":{"x":{"field":"bp","type":"quantitative","scale":{"domain":[10000,-1500],"range":[639,867],"nice":false,"zero":false},"axis":null},"y":{"field":"c","type":"quantitative","scale":{"domain":[240,330],"range":[605,377],"nice":false,"zero":false},"axis":null}}},
 {"data":{"name":"n2o_ind"},"mark":{"type":"point","shape":"M-0.3,-0.25H0.3V0.25H-0.3Z M-0.32,-1H0.32V-0.92H-0.32Z M-0.32,0.92H0.32V1H-0.32Z M-0.06,-1H0.06V1H-0.06Z","filled":true,"size":260,"color":"#3b1f8c","opacity":1,"strokeWidth":0},
  "encoding":{"x":{"field":"bp","type":"quantitative","scale":{"domain":[10000,-1500],"range":[639,867],"nice":false,"zero":false},"axis":null},"y":{"field":"c","type":"quantitative","scale":{"domain":[240,330],"range":[605,377],"nice":false,"zero":false},"axis":null}}},
 {"data":{"name":"n2o_red"},"mark":{"type":"point","shape":"M-0.3,-0.25H0.3V0.25H-0.3Z M-0.32,-1H0.32V-0.92H-0.32Z M-0.32,0.92H0.32V1H-0.32Z M-0.06,-1H0.06V1H-0.06Z","filled":true,"size":120,"color":"#e8174a","opacity":1,"strokeWidth":0},
  "encoding":{"x":{"field":"bp","type":"quantitative","scale":{"domain":[10000,-1500],"range":[639,867],"nice":false,"zero":false},"axis":null},"y":{"field":"c","type":"quantitative","scale":{"domain":[240,330],"range":[605,377],"nice":false,"zero":false},"axis":null}}}
]},
{"data":{"values":[{}]},"mark":{"type":"rect","fill":"#d5d6d8","stroke":"#222222","strokeWidth":1.5},
 "encoding":{
  "x":{"datum":1745,"type":"quantitative","scale":{"domain":[1745,2052],"range":[656,772],"nice":false,"zero":false},"axis":{"orient":"top","offset":-396,"values":[1800,1850,1900,1950,2000],"labels":false,"tickSize":-3,"tickWidth":1,"zindex":2,"title":null}},
  "x2":{"datum":2052},
  "y":{"datum":240,"type":"quantitative","scale":{"domain":[240,330],"range":[478,396],"nice":false,"zero":false},"axis":{"orient":"left","offset":-656,"values":[255,270,285,300,315],"labels":false,"tickSize":-3,"tickWidth":1,"zindex":2,"title":null}},
  "y2":{"datum":330}}},
{"data":{"name":"n2oi_pink"},"mark":{"type":"line","color":"#f0207a","strokeWidth":5},
 "encoding":{"x":{"field":"yr","type":"quantitative","scale":{"domain":[1745,2052],"range":[656,772],"nice":false,"zero":false},"axis":{"orient":"bottom","offset":-212,"values":[1800,1850,1900,1950,2000],"format":"d","labelExpr":"datum.value % 100 == 0 ? datum.label : ''","tickSize":-3,"tickWidth":1,"zindex":2,"labelFontSize":8,"labelPadding":5,"title":"Year","titleFontSize":7.5,"titlePadding":0}},
  "y":{"field":"c","type":"quantitative","scale":{"domain":[240,330],"range":[478,396],"nice":false,"zero":false},"axis":{"orient":"right","offset":-148,"values":[240,255,270,285,300,315,330],"format":"d","labelExpr":"datum.value % 30 == 0 ? datum.label : ''","tickSize":-3,"tickWidth":1,"zindex":2,"labelFontSize":8,"labelPadding":5,"title":null}}}},
{"layer":[
 {"data":{"name":"n2oi_ind"},"mark":{"type":"point","shape":"M-0.3,-0.25H0.3V0.25H-0.3Z M-0.32,-1H0.32V-0.9H-0.32Z M-0.32,0.9H0.32V1H-0.32Z M-0.06,-1H0.06V1H-0.06Z","filled":true,"size":110,"color":"#5a2a96","opacity":1,"strokeWidth":0},
  "encoding":{"x":{"field":"yr","type":"quantitative","scale":{"domain":[1745,2052],"range":[656,772],"nice":false,"zero":false},"axis":null},"y":{"field":"c","type":"quantitative","scale":{"domain":[240,330],"range":[478,396],"nice":false,"zero":false},"axis":null}}},
 {"data":{"name":"n2oi_grn"},"mark":{"type":"point","shape":"M-0.3,-0.25H0.3V0.25H-0.3Z M-0.32,-1H0.32V-0.9H-0.32Z M-0.32,0.9H0.32V1H-0.32Z M-0.06,-1H0.06V1H-0.06Z","filled":true,"size":110,"color":"#1aa07a","opacity":1,"strokeWidth":0},
  "encoding":{"x":{"field":"yr","type":"quantitative","scale":{"domain":[1745,2052],"range":[656,772],"nice":false,"zero":false},"axis":null},"y":{"field":"c","type":"quantitative","scale":{"domain":[240,330],"range":[478,396],"nice":false,"zero":false},"axis":null}}}
]},
{"layer":[
 {"data":{"values":[{"t":"亜酸化窒素","bp":6824,"c":275.1}]},"mark":{"type":"text","align":"left","baseline":"middle","font":"Noto Sans CJK JP","fontSize":29,"color":"#ff0000"},
  "encoding":{"x":{"field":"bp","type":"quantitative","scale":{"domain":[10000,-1500],"range":[639,867],"nice":false,"zero":false},"axis":null},"y":{"field":"c","type":"quantitative","scale":{"domain":[240,330],"range":[605,377],"nice":false,"zero":false},"axis":null},"text":{"field":"t"}}},
 {"data":{"values":[{"t":"(IPCC、第 4 次報告書、2007)","bp":2940,"c":214.3}]},"mark":{"type":"text","align":"center","baseline":"middle","font":"Liberation Serif, Noto Sans CJK JP","fontSize":20,"color":"#000000"},
  "encoding":{"x":{"field":"bp","type":"quantitative","scale":{"domain":[10000,-1500],"range":[639,867],"nice":false,"zero":false},"axis":null},"y":{"field":"c","type":"quantitative","scale":{"domain":[240,330],"range":[605,377],"nice":false,"zero":false},"axis":null},"text":{"field":"t"}}},
 {"data":{"values":[{"t":"©IPCC 2007: WG1-AR4","bp":-1246,"c":333.6}]},"mark":{"type":"text","align":"right","baseline":"middle","font":"Liberation Sans","fontSize":6.5,"color":"#888888"},
  "encoding":{"x":{"field":"bp","type":"quantitative","scale":{"domain":[10000,-1500],"range":[639,867],"nice":false,"zero":false},"axis":null},"y":{"field":"c","type":"quantitative","scale":{"domain":[240,330],"range":[605,377],"nice":false,"zero":false},"axis":null},"text":{"field":"t"}}}
]}
],
"resolve":{"scale":{"x":"independent","y":"independent"}}
}
